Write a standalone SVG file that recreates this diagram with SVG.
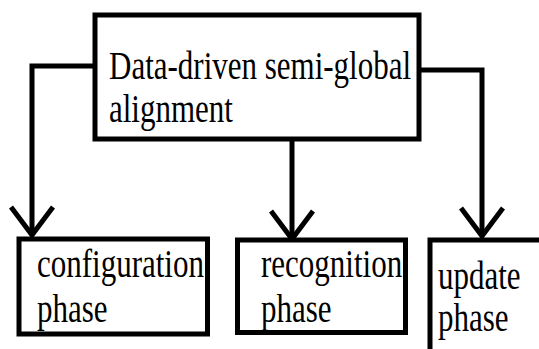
<svg xmlns="http://www.w3.org/2000/svg" width="539" height="349" viewBox="0 0 539 349">
<defs>
<style>
.box{fill:#fff;stroke:#000;stroke-width:5}
.conn{fill:none;stroke:#000;stroke-width:5}
.lbl{font-family:"Liberation Serif","Times New Roman",serif;font-size:31px;fill:#000}
</style>
<marker id="arr" markerUnits="userSpaceOnUse" markerWidth="60" markerHeight="60" viewBox="-30 -30 60 60" refX="0" refY="0" orient="auto" overflow="visible">
<path d="M-28,-21 L0,0 L-28,21" fill="none" stroke="#000" stroke-width="5"/>
</marker>
</defs>
<rect width="539" height="349" fill="#fff"/>
<g id="connectors">
<path class="conn" d="M95,66 H32 V235" marker-end="url(#arr)"/>
<path class="conn" d="M292,139 V239" marker-end="url(#arr)"/>
<path class="conn" d="M419,70 H482 V236" marker-end="url(#arr)"/>
</g>
<g id="main">
<rect class="box" x="95" y="15" width="324" height="124"/>
<text class="lbl" transform="translate(109,79) scale(1,1.3)">Data-driven semi-global</text>
<text class="lbl" transform="translate(109,122) scale(1,1.3)">alignment</text>
</g>
<g id="configuration">
<rect class="box" x="19" y="239" width="188.5" height="95"/>
<text class="lbl" transform="translate(37,277) scale(1,1.3)">configuration</text>
<text class="lbl" transform="translate(37,322) scale(1,1.3)">phase</text>
</g>
<g id="recognition">
<rect class="box" x="237.5" y="240" width="168" height="92.5"/>
<text class="lbl" transform="translate(261,277) scale(1,1.3)">recognition</text>
<text class="lbl" transform="translate(261,322) scale(1,1.3)">phase</text>
</g>
<g id="update">
<rect class="box" x="430" y="240" width="130" height="130"/>
<text class="lbl" transform="translate(438,289) scale(1,1.3)">update</text>
<text class="lbl" transform="translate(438,331) scale(1,1.3)">phase</text>
</g>
</svg>
